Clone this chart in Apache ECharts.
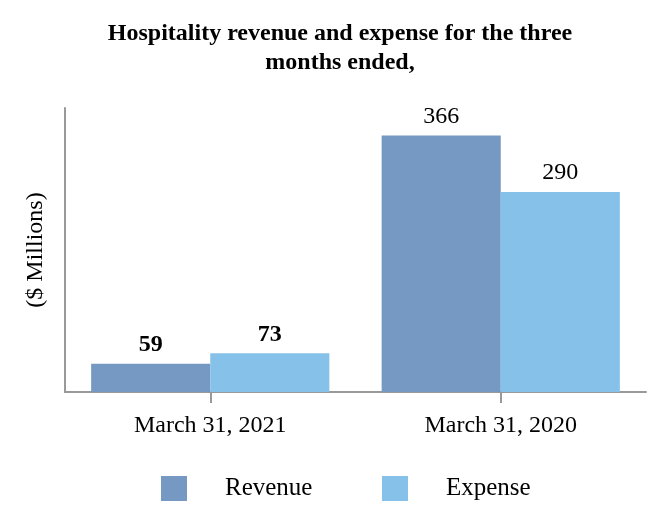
<!DOCTYPE html>
<html><head><meta charset="utf-8">
<script src="https://cdn.jsdelivr.net/npm/echarts@6/dist/echarts.min.js"></script>
<style>html,body{margin:0;padding:0;background:#fff}#c{width:666px;height:532px}</style>
</head><body><div id="c"></div>
<script>
const categories = ["March 31, 2021", "March 31, 2020"];
const revenue = [59, 366];
const expense = [73, 290];
const seriesNames = ["Revenue", "Expense"];
const F = "'Liberation Serif','Times New Roman',serif";
const chart = echarts.init(document.getElementById('c'));
function lbl(i){ return {show:true, position:'top', distance:7, fontFamily:F, fontSize:24, color:'#000', fontWeight: i===0 ? 'bold':'normal'}; }
function mk(vals){ return vals.map((v,i)=>({value:v, label:lbl(i)})); }
chart.setOption({
  animation:false,
  title:{text:"Hospitality revenue and expense for the three\nmonths ended,", left:335, textAlign:'center', top:14,
    textStyle:{fontFamily:F, fontSize:24, fontWeight:'bold', color:'#000', lineHeight:29}},
  legend:[
    {data:[seriesNames[0]], left:156, top:471, itemWidth:26, itemHeight:25, icon:'rect',
     textStyle:{fontFamily:F, fontSize:25, color:'#000', padding:[3,0,0,33]}},
    {data:[seriesNames[1]], left:377, top:471, itemWidth:26, itemHeight:25, icon:'rect',
     textStyle:{fontFamily:F, fontSize:25, color:'#000', padding:[3,0,0,33]}}
  ],
  grid:{left:65, right:20, top:108, bottom:140, containLabel:false},
  xAxis:{type:'category', data:categories,
    axisLine:{lineStyle:{color:'#999', width:2}},
    axisTick:{show:true, length:11, alignWithLabel:true, lineStyle:{color:'#999', width:2}},
    axisLabel:{fontFamily:F, fontSize:24, color:'#000', margin:22}},
  yAxis:{type:'value', min:21, max:403, name:'($ Millions)', nameLocation:'middle', nameGap:17,
    nameTextStyle:{fontFamily:F, fontSize:24, color:'#000'},
    axisLine:{show:true, lineStyle:{color:'#999', width:2}},
    axisTick:{show:false}, axisLabel:{show:false}, splitLine:{show:false}},
  series:[
    {name:seriesNames[0], type:'bar', data:mk(revenue), barGap:'0%', barCategoryGap:'18%', itemStyle:{color:'#7599C3'}},
    {name:seriesNames[1], type:'bar', data:mk(expense), itemStyle:{color:'#86C1EA'}}
  ]
});
</script></body></html>
